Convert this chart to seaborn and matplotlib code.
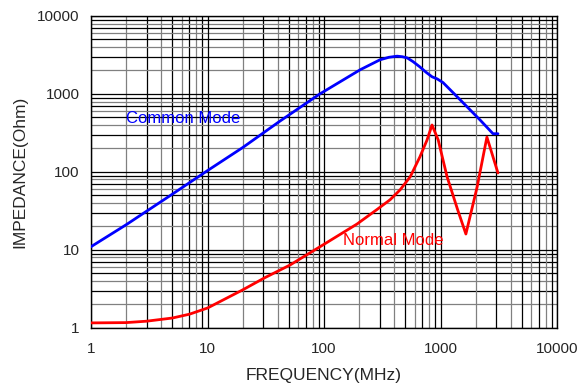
import numpy as np
import pandas as pd
import matplotlib.pyplot as plt
import seaborn as sns

# Common mode impedance
cm_freq = [1, 2, 5, 10, 20, 42, 92, 204, 302, 360, 424, 470, 517, 580, 665, 750, 845, 935, 1050, 1475, 2180, 2820, 3110]
cm_imp = [11, 21, 52, 104, 205, 450, 1000, 2040, 2740, 2950, 3050, 3000, 2900, 2600, 2220, 1900, 1660, 1560, 1400, 840, 465, 309, 309]

# Normal mode impedance
nm_freq = [1, 2, 3, 5, 7, 10, 20, 31, 51, 98, 192, 285, 369, 450, 550, 665, 766, 845, 955, 1137, 1400, 1650, 2060, 2500, 3110]
nm_imp = [1.16, 1.17, 1.22, 1.34, 1.5, 1.8, 3.07, 4.4, 6.4, 11.6, 21.5, 33, 44, 59, 87, 156, 257, 400, 257, 87, 33, 16, 64, 280, 97]

x_ticks = [1, 10, 100, 1000, 10000]
y_ticks = [1, 10, 100, 1000, 10000]

cm_df = pd.DataFrame({'freq': cm_freq, 'imp': cm_imp})
nm_df = pd.DataFrame({'freq': nm_freq, 'imp': nm_imp})

sns.set_style('white')
plt.rcParams['font.family'] = ['Liberation Sans', 'DejaVu Sans']

fig = plt.figure(figsize=(5.87, 3.89), dpi=100)
ax = fig.add_axes([0.155, 0.157, 0.794, 0.802])

ax.set_xscale('log')
ax.set_yscale('log')
ax.set_xlim(1, 10000)
ax.set_ylim(1, 10000)

# grid: decades and sub-decade lines
for d in [1, 10, 100, 1000]:
    for m in range(2, 10):
        c = '#808080' if m % 2 == 0 else 'black'
        ax.axvline(d * m, color=c, lw=0.9, zorder=1)
        ax.axhline(d * m, color=c, lw=0.9, zorder=1)
for t in x_ticks:
    ax.axvline(t, color='black', lw=0.9, zorder=1)
    ax.axhline(t, color='black', lw=0.9, zorder=1)

sns.lineplot(data=cm_df, x='freq', y='imp', color='#0000ff', lw=2, ax=ax, zorder=3)
sns.lineplot(data=nm_df, x='freq', y='imp', color='#ff0000', lw=2, ax=ax, zorder=3)

ax.text(1.98, 478, 'Common Mode', color='#0000ff', fontsize=12, va='center', ha='left', zorder=4)
ax.text(145, 13.4, 'Normal Mode', color='#ff0000', fontsize=12, va='center', ha='left', zorder=4)

ax.set_xticks(x_ticks)
ax.set_xticklabels([str(t) for t in x_ticks])
ax.set_yticks(y_ticks)
ax.set_yticklabels([str(t) for t in y_ticks])
ax.minorticks_off()
ax.tick_params(length=0, labelsize=11)
ax.tick_params(axis='x', pad=10)
ax.tick_params(axis='y', pad=8)
ax.set_xlabel('FREQUENCY(MHz)', fontsize=12.5, labelpad=9)
ax.set_ylabel('IMPEDANCE(Ohm)', fontsize=12.5, labelpad=7)

for s in ax.spines.values():
    s.set_color('black')
    s.set_linewidth(1)

fig.savefig('out.png', dpi=100)
